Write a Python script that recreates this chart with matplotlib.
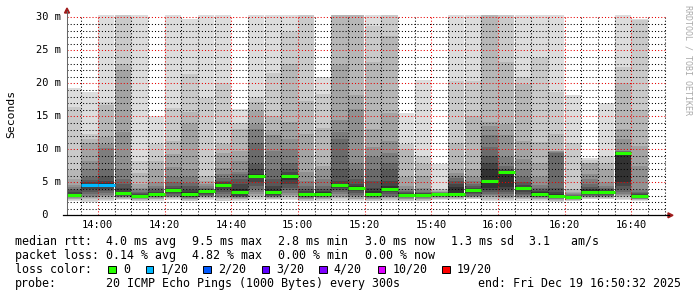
import numpy as np
import matplotlib
matplotlib.use("Agg")
import matplotlib.pyplot as plt
import matplotlib.transforms as mtransforms
from matplotlib.lines import Line2D
from matplotlib.patches import Polygon, Rectangle
from matplotlib.ticker import MultipleLocator, FuncFormatter

plt.rcParams["font.family"] = ["DejaVu Sans Mono"]

W, H = 697, 297

# start of each 5 minute step
bar_times = ["13:50", "13:55", "14:00", "14:05", "14:10", "14:15", "14:20",
             "14:25", "14:30", "14:35", "14:40", "14:45", "14:50", "14:55",
             "15:00", "15:05", "15:10", "15:15", "15:20", "15:25", "15:30",
             "15:35", "15:40", "15:45", "15:50", "15:55", "16:00", "16:05",
             "16:10", "16:15", "16:20", "16:25", "16:30", "16:35", "16:40"]

# median rtt (ms) per step
median = [3.1, 4.6, 4.6, 3.4, 3.0, 3.2, 3.85, 3.2, 3.7, 4.6,
          3.6, 5.95, 3.6, 5.95, 3.2, 3.3, 4.6, 4.2, 3.2, 4.0,
          3.1, 3.1, 3.3, 3.3, 3.9, 5.2, 6.5, 4.1, 3.3, 3.0,
          2.8, 3.6, 3.6, 9.5, 3.0]

# lost pings out of 20 per step
loss = [0, 1, 1, 0, 0, 0, 0, 0, 0, 0, 0, 0, 0, 0, 0, 0, 0, 0,
        0, 0, 0, 0, 0, 0, 0, 0, 0, 0, 0, 0, 0, 0, 0, 0, 0]

# the 20 ping times (ms) of each step, slowest first
pings = [
    [19.3, 16.4, 6.9, 5.5, 4.6, 4.3, 4.0, 3.8, 3.6, 3.3, 3.0, 2.9, 2.8, 2.75, 2.7, 2.6, 2.5, 2.4, 2.3, 2.2],
    [18.7, 12.3, 11.6, 10.9, 8.3, 7.0, 5.75, 5.3, 5.0, 4.8, 4.3, 4.0, 3.6, 3.3, 3.0, 2.8, 2.6, 2.4, 2.2, 2.0],
    [32, 17.1, 16.7, 11.9, 10.8, 10.2, 7.0, 6.0, 5.25, 4.9, 4.3, 4.0, 3.7, 3.4, 3.1, 2.9, 2.7, 2.5, 2.3, 2.1],
    [38, 34, 23.0, 22.0, 12.6, 7.0, 5.5, 4.8, 4.1, 3.6, 3.2, 3.1, 3.0, 2.9, 2.8, 2.7, 2.6, 2.5, 2.4, 2.3],
    [32, 8.3, 6.4, 4.7, 4.2, 3.9, 3.6, 3.4, 3.3, 3.15, 2.9, 2.8, 2.75, 2.7, 2.6, 2.5, 2.4, 2.3, 2.2, 2.1],
    [15.1, 10.8, 8.3, 7.0, 5.0, 4.5, 4.1, 3.8, 3.5, 3.35, 3.1, 3.0, 2.9, 2.8, 2.7, 2.6, 2.5, 2.4, 2.3, 2.2],
    [31, 16.3, 11.3, 9.3, 7.3, 5.75, 5.0, 4.5, 4.2, 4.05, 3.7, 3.4, 3.2, 3.0, 2.9, 2.8, 2.7, 2.6, 2.5, 2.3],
    [29.7, 21.4, 15.6, 13.8, 7.0, 5.8, 4.9, 4.4, 3.9, 3.5, 3.0, 2.9, 2.8, 2.7, 2.6, 2.5, 2.4, 2.3, 2.2, 2.1],
    [31, 17.8, 6.0, 5.25, 4.7, 4.4, 4.2, 4.0, 3.9, 3.8, 3.5, 3.3, 3.1, 3.0, 2.9, 2.8, 2.7, 2.6, 2.5, 2.3],
    [31, 20.0, 10.8, 9.5, 7.2, 6.3, 5.7, 5.25, 5.0, 4.8, 4.3, 4.0, 3.6, 3.3, 3.0, 2.8, 2.6, 2.4, 2.2, 2.1],
    [16.1, 14.0, 13.1, 9.8, 8.3, 6.5, 6.2, 5.5, 4.8, 4.0, 3.3, 3.0, 2.9, 2.8, 2.7, 2.6, 2.5, 2.4, 2.3, 2.2],
    [35, 17.9, 17.1, 15.8, 13.8, 13.1, 11.0, 7.8, 7.0, 6.2, 5.6, 5.0, 4.4, 4.0, 3.6, 3.3, 3.0, 2.7, 2.5, 2.3],
    [32, 21.5, 15.1, 12.8, 12.1, 9.8, 6.8, 5.5, 4.5, 3.9, 3.3, 3.1, 3.0, 2.9, 2.8, 2.7, 2.6, 2.5, 2.4, 2.3],
    [33, 27.7, 22.9, 14.1, 11.6, 10.1, 8.0, 7.0, 6.5, 6.1, 5.4, 4.8, 4.2, 3.8, 3.4, 3.1, 2.9, 2.7, 2.5, 2.3],
    [33, 31, 17.3, 12.3, 6.5, 5.25, 4.5, 4.0, 3.7, 3.4, 3.0, 2.9, 2.8, 2.7, 2.6, 2.5, 2.4, 2.3, 2.2, 2.1],
    [20.9, 18.4, 13.3, 7.5, 6.8, 5.5, 4.5, 4.0, 3.7, 3.5, 3.1, 3.0, 2.9, 2.8, 2.7, 2.6, 2.5, 2.4, 2.3, 2.2],
    [40, 36, 32, 22.7, 14.4, 12.6, 11.6, 7.0, 5.25, 4.8, 4.4, 4.1, 3.8, 3.5, 3.2, 3.0, 2.8, 2.6, 2.4, 2.2],
    [40, 36, 32, 18.2, 16.1, 8.0, 6.9, 5.5, 4.8, 4.4, 4.0, 3.7, 3.4, 3.1, 2.9, 2.7, 2.5, 2.4, 2.3, 2.2],
    [35, 28.7, 23.2, 13.1, 10.3, 8.8, 6.8, 5.2, 4.2, 3.7, 3.0, 2.9, 2.8, 2.7, 2.6, 2.5, 2.4, 2.3, 2.2, 2.1],
    [38, 33, 27.1, 15.5, 11.3, 9.4, 7.9, 6.8, 5.2, 4.5, 3.8, 3.5, 3.2, 3.0, 2.8, 2.7, 2.6, 2.5, 2.3, 2.2],
    [15.5, 10.8, 10.0, 5.75, 4.5, 4.0, 3.7, 3.5, 3.35, 3.2, 3.0, 2.9, 2.8, 2.7, 2.6, 2.5, 2.4, 2.3, 2.2, 2.1],
    [20.5, 9.0, 7.8, 6.0, 4.2, 3.9, 3.6, 3.45, 3.35, 3.25, 3.0, 2.9, 2.8, 2.7, 2.6, 2.5, 2.4, 2.3, 2.2, 2.1],
    [7.8, 4.0, 3.8, 3.65, 3.55, 3.5, 3.45, 3.4, 3.38, 3.35, 3.2, 3.1, 3.0, 2.9, 2.8, 2.7, 2.6, 2.5, 2.4, 2.3],
    [33, 20.3, 11.0, 7.0, 6.4, 6.0, 5.6, 5.25, 4.8, 4.3, 3.2, 3.1, 3.0, 2.9, 2.8, 2.7, 2.6, 2.5, 2.4, 2.3],
    [36, 20.4, 15.1, 7.0, 5.75, 5.25, 4.8, 4.5, 4.2, 4.05, 3.7, 3.4, 3.2, 3.0, 2.9, 2.8, 2.7, 2.6, 2.5, 2.4],
    [40, 36, 32, 14.1, 13.6, 12.1, 10.3, 9.0, 8.0, 7.0, 4.1, 3.8, 3.5, 3.3, 3.1, 2.9, 2.7, 2.5, 2.3, 2.2],
    [36, 33, 23.3, 13.8, 12.1, 8.8, 7.5, 7.0, 6.8, 6.6, 4.3, 4.0, 3.6, 3.3, 3.0, 2.8, 2.6, 2.5, 2.3, 2.2],
    [31, 20.9, 19.9, 11.3, 8.5, 7.0, 5.75, 5.0, 4.6, 4.3, 3.9, 3.6, 3.3, 3.1, 2.9, 2.7, 2.6, 2.5, 2.4, 2.2],
    [31, 23.9, 11.1, 8.0, 5.75, 4.6, 4.2, 3.9, 3.7, 3.5, 3.2, 3.0, 2.9, 2.8, 2.7, 2.6, 2.5, 2.4, 2.3, 2.2],
    [31, 18.7, 12.3, 9.8, 9.7, 9.6, 9.5, 4.2, 3.6, 3.2, 2.9, 2.8, 2.7, 2.6, 2.5, 2.4, 2.3, 2.2, 2.1, 2.0],
    [18.2, 11.0, 4.0, 3.6, 3.4, 3.2, 3.1, 3.0, 2.95, 2.9, 2.75, 2.7, 2.6, 2.5, 2.45, 2.4, 2.35, 2.3, 2.2, 2.1],
    [8.7, 8.4, 8.0, 7.9, 6.3, 5.5, 4.7, 4.3, 4.0, 3.8, 3.5, 3.3, 3.1, 3.0, 2.9, 2.8, 2.7, 2.6, 2.5, 2.4],
    [17.0, 9.0, 8.0, 7.0, 5.0, 4.5, 4.2, 4.0, 3.9, 3.75, 3.5, 3.3, 3.1, 3.0, 2.9, 2.8, 2.7, 2.6, 2.5, 2.4],
    [33, 22.4, 20.1, 13.1, 11.6, 9.8, 9.7, 9.65, 9.6, 9.55, 5.1, 4.5, 4.0, 3.6, 3.3, 3.1, 2.9, 2.7, 2.5, 2.3],
    [29.7, 29.6, 15.9, 10.5, 7.5, 3.8, 3.6, 3.4, 3.3, 3.15, 2.9, 2.8, 2.7, 2.6, 2.5, 2.45, 2.4, 2.35, 2.3, 2.2],
]

loss_levels = [0, 1, 2, 3, 4, 10, 19]
loss_labels = ["0", "1/20", "2/20", "3/20", "4/20", "10/20", "19/20"]
loss_colors = ["#26ff00", "#00b8ff", "#0059ff", "#5e00ff", "#7e00ff", "#dd00ff", "#ff0000"]

y_ticks = [0, 5, 10, 15, 20, 25, 30]
y_tick_labels = [" 0  ", " 5 m", "10 m", "15 m", "20 m", "25 m", "30 m"]


def fx(px):
    return px / W


def fy(py):
    return 1 - py / H


def minutes(hm):
    h, m = hm.split(":")
    return int(h) * 60 + int(m)


fig = plt.figure(figsize=(W / 100, H / 100), dpi=100)
fig.patch.set_facecolor("white")
ax = fig.add_axes([fx(67), fy(215.3), 600 / W, 200.3 / H])
ax.set_xlim(830.75, 1010.75)
ax.set_ylim(0, 30.35)
for s in ax.spines.values():
    s.set_visible(False)

# smoke: layer k spans ping k .. ping 20-k, darker towards the middle
left = np.array([minutes(t) for t in bar_times])
p = np.sort(np.array(pings, dtype=float), axis=1)
for k in range(10):
    g = int(190 / 10 * (10 - (k + 1))) + 50
    ax.bar(left, p[:, 19 - k] - p[:, k], bottom=p[:, k], width=5, align="edge",
           color="#%02x%02x%02x" % (g, g, g), linewidth=0, zorder=1)

# median line coloured by loss
lc = [loss_colors[max(j for j, lv in enumerate(loss_levels) if l >= lv)] for l in loss]
ax.hlines(median, left, left + 5, colors=lc, linewidth=2.2, zorder=3)

# grid on top, rrdtool style
ax.xaxis.set_major_locator(MultipleLocator(20))
ax.xaxis.set_minor_locator(MultipleLocator(5))
ax.yaxis.set_major_locator(MultipleLocator(5))
ax.yaxis.set_minor_locator(MultipleLocator(1))
ax.set_axisbelow(False)
ax.grid(which="minor", color=(0, 0, 0, 0.12), linestyle=(0, (1, 2)), linewidth=0.75)
ax.grid(which="major", color=(0.9, 0, 0, 0.26), linestyle=(0, (1, 2)), linewidth=0.75)

ax.xaxis.set_major_formatter(FuncFormatter(lambda v, pos: "%02d:%02d" % (int(v) // 60, int(v) % 60)))
ax.tick_params(axis="x", which="both", length=0, pad=3.2, labelsize=7.5)
ax.tick_params(axis="y", which="both", length=0, labelleft=False)

trans = mtransforms.blended_transform_factory(fig.transFigure, ax.transData)
for v, lab in zip(y_ticks, y_tick_labels):
    ax.text(fx(35.5), v, lab, transform=trans, ha="left", va="center", size=7.5)

# axes with arrows
fig.add_artist(Line2D([fx(67), fx(67)], [fy(215.3), fy(11)], color="#666666", lw=0.75))
fig.add_artist(Line2D([fx(63), fx(669)], [fy(215.3), fy(215.3)], color="black", lw=0.9))
fig.add_artist(Polygon([[fx(64.5), fy(13)], [fx(69.5), fy(13)], [fx(67), fy(8)]],
                       closed=True, color="#a01c1c", transform=fig.transFigure))
fig.add_artist(Polygon([[fx(668), fy(212.8)], [fx(668), fy(217.8)], [fx(673), fy(215.3)]],
                       closed=True, color="#a01c1c", transform=fig.transFigure))

fig.text(fx(11), fy(114), "Seconds", rotation=90, ha="center", va="center", size=8.2)
fig.text(fx(688), fy(60), "RRDTOOL / TOBI OETIKER", rotation=270, ha="center",
         va="center", size=6, color="#aaaaaa")

# legend block
fs = 8.4
row_y = [241.5, 255.3, 269.3, 283.3]
col_x = [107.3, 193.3, 279.3, 365.7, 451.7, 530]
row1 = ["4.0 ms avg", "9.5 ms max", "2.8 ms min", "3.0 ms now", "1.3 ms sd", "3.1   am/s"]
row2 = ["0.14 % avg", "4.82 % max", "0.00 % min", "0.00 % now"]

fig.text(fx(15.3), fy(row_y[0]), "median rtt:", ha="left", va="center", size=fs)
for x, s in zip(col_x, row1):
    fig.text(fx(x - 0.8), fy(row_y[0]), s, ha="left", va="center", size=fs)
fig.text(fx(15.3), fy(row_y[1]), "packet loss:", ha="left", va="center", size=fs)
for x, s in zip(col_x, row2):
    fig.text(fx(x - 0.8), fy(row_y[1]), s, ha="left", va="center", size=fs)

fig.text(fx(15.3), fy(row_y[2]), "loss color:", ha="left", va="center", size=fs)
box_x = [108.3, 145.7, 203.3, 261.7, 319.3, 377.7, 442.3]
for bx, lab, col in zip(box_x, loss_labels, loss_colors):
    fig.add_artist(Rectangle((fx(bx), fy(273.3)), 7.6 / W, 7.6 / H, facecolor=col,
                             edgecolor="black", linewidth=0.7, transform=fig.transFigure))
    fig.text(fx(bx + 14.5), fy(row_y[2]), lab, ha="left", va="center", size=fs)

fig.text(fx(15.3), fy(row_y[3]), "probe:", ha="left", va="center", size=fs)
fig.text(fx(106.5), fy(row_y[3]), "20 ICMP Echo Pings (1000 Bytes) every 300s",
         ha="left", va="center", size=fs)
fig.text(fx(680.5), fy(row_y[3]), "end: Fri Dec 19 16:50:32 2025", ha="right",
         va="center", size=fs)

fig.savefig("out.png", dpi=100, facecolor="white")
